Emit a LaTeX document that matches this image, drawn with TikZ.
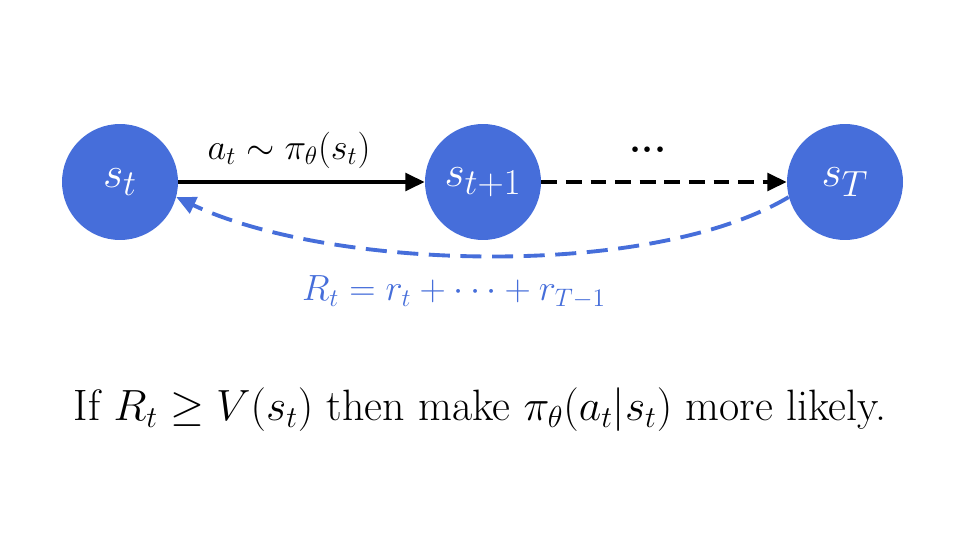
\documentclass[tikz,border=0pt]{standalone}
\usetikzlibrary{arrows.meta}
\definecolor{nodeblue}{RGB}{70,110,218}
\begin{document}
\begin{tikzpicture}[x=0.02cm,y=-0.02cm,
  st/.style={circle,fill=nodeblue,minimum size=2.32cm,inner sep=0pt,text=white,font=\fontsize{29}{32}\selectfont},
  arr/.style={line width=2.2pt,-{Triangle[length=11pt,width=10pt]}}]
\useasboundingbox (0,0) rectangle (960,540);
\node[st] (a) at (120,182) {$s_t$};
\node[st] (b) at (483,182) {$s_{t+1}$};
\node[st] (c) at (845,182) {$s_T$};
\draw[arr] (a) -- (b);
\draw[arr,dashed,dash pattern=on 9pt off 5pt] (b) -- (c);
\node[font=\fontsize{19.5}{22}\selectfont] (l1) at (289,150) {$a_t\sim\pi_\theta(s_t)$};
\node[font=\bfseries\fontsize{22}{22}\selectfont] (dots) at (648,150) {...};
\draw[nodeblue,line width=2.2pt,dashed,dash pattern=on 12pt off 6pt,-{Triangle[length=11pt,width=10pt]}]
  (c.195) .. controls (650,280) and (330,270) .. (a.345);
\node[text=nodeblue,font=\fontsize{22.5}{26}\selectfont] (l2) at (454,292) {$R_t=r_t+\cdots+r_{T-1}$};
\node[font=\fontsize{25}{30}\selectfont] (l3) at (480,410) {If $R_t\geq V(s_t)$ then make $\pi_\theta(a_t|s_t)$ more likely.};
\end{tikzpicture}
\end{document}
